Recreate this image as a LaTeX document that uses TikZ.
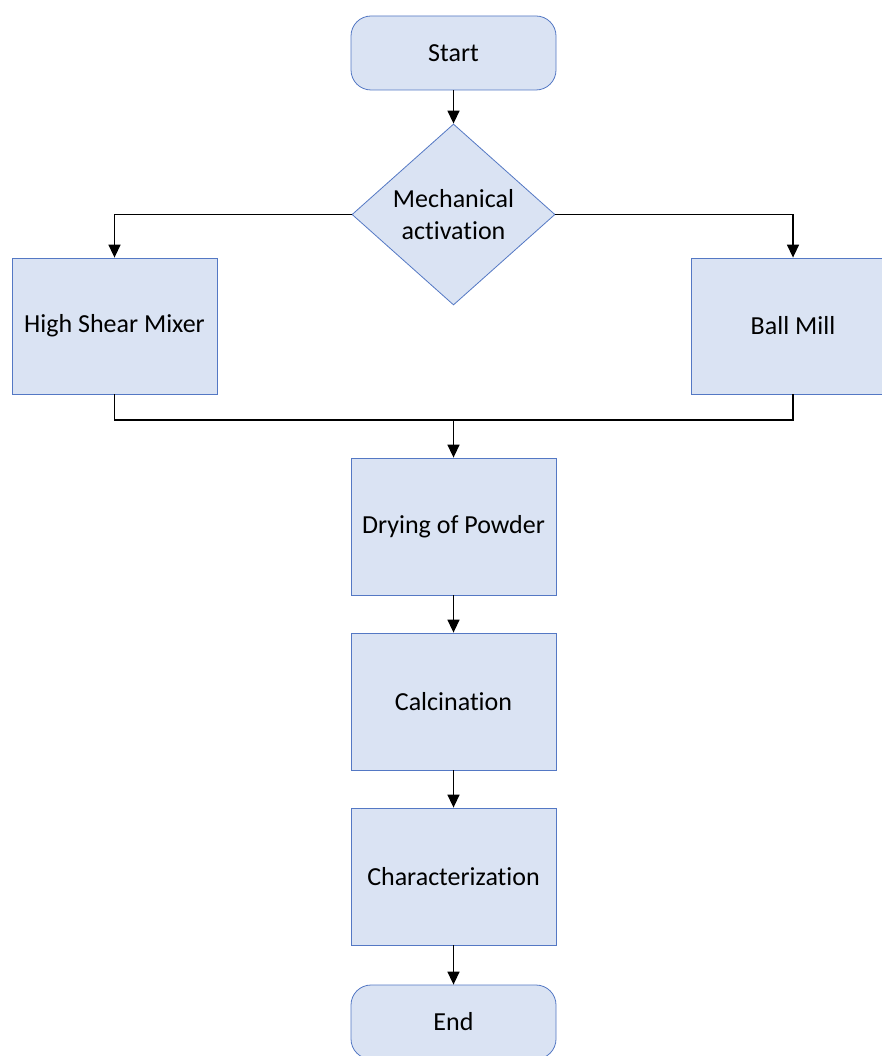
\documentclass[tikz,border=0pt]{standalone}
\usepackage{fontspec}
\setmainfont{Carlito}[Ligatures=NoCommon]
\usetikzlibrary{shapes.geometric,arrows.meta,positioning}
\definecolor{boxfill}{RGB}{218,227,243}
\definecolor{boxline}{RGB}{84,120,196}

\begin{document}
\begin{tikzpicture}[
  x=1pt,y=1pt,
  font=\fontsize{26}{32}\selectfont,
  box/.style={draw=boxline,fill=boxfill,line width=0.8pt,minimum width=205pt,minimum height=137pt,align=center,inner sep=0pt},
  term/.style={box,rounded corners=20pt,minimum height=74pt},
  decision/.style={draw=boxline,fill=boxfill,line width=0.8pt,diamond,aspect=1.12,minimum width=203pt,minimum height=181pt,align=center,inner sep=0pt},
  arr/.style={-{Triangle[width=12pt,length=13pt]},line width=1.5pt},
  link/.style={line width=1.5pt},
]
\clip (0,0) rectangle (882,-1056);
\fill[white] (0,0) rectangle (882,-1056);

\node[term] (start) at (453.5,-53) {Start};
\node[decision] (mech) at (453.5,-214.5) {Mechanical\\activation};
\node[box,minimum height=136pt] (mixer) at (114.5,-326) {High Shear Mixer};
\node[box,minimum height=136pt,minimum width=204pt] (mill) at (793,-326) {Ball Mill};
\node[box] (dry) at (453.5,-526.5) {Drying of Powder};
\node[box] (calc) at (453.5,-701.5) {Calcination};
\node[box] (char) at (453.5,-876.5) {Characterization};
\node[term] (end) at (453.5,-1022) {End};

\coordinate (join) at (453.5,-420);

\draw[arr] (start) -- (mech);
\draw[arr] (mech.west) -| (mixer.north);
\draw[arr] (mech.east) -| (mill.north);
\draw[link] (mixer.south) |- (join);
\draw[link] (mill.south) |- (join);
\draw[arr] (join) -- (dry);
\draw[arr] (dry) -- (calc);
\draw[arr] (calc) -- (char);
\draw[arr] (char) -- (end);
\end{tikzpicture}
\end{document}
